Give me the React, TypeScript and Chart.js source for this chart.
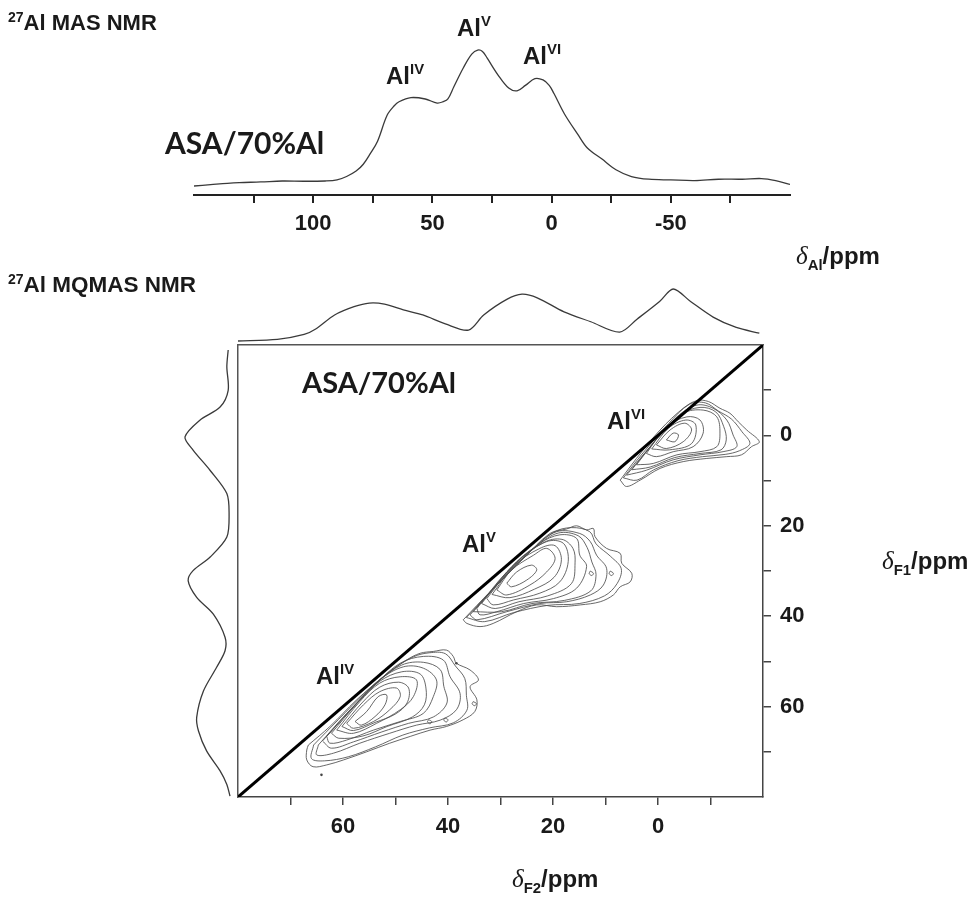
import React, { useEffect, useRef } from "react";
import { Chart, registerables } from "chart.js";
Chart.register(...registerables);

// ---------- 27Al MAS NMR (1D) ----------
const masShift = [150, 143, 136, 131, 122, 113, 104, 95, 90, 86, 82, 79, 76, 73, 69, 66, 64, 59, 53, 48, 45.5, 43.5, 41, 37, 33.5, 31, 29, 27, 22.6, 18, 14.5, 11, 7, 3.6, 1, -1, -5.4, -11, -15, -21, -27, -33.5, -40.8, -50, -60, -70, -80, -88, -94, -100];
const masIntensity = [0.0, 0.01, 0.02, 0.025, 0.03, 0.037, 0.035, 0.037, 0.045, 0.07, 0.11, 0.16, 0.24, 0.33, 0.52, 0.59, 0.62, 0.65, 0.64, 0.61, 0.62, 0.64, 0.73, 0.87, 0.97, 1.0, 0.99, 0.94, 0.82, 0.72, 0.7, 0.74, 0.79, 0.78, 0.74, 0.68, 0.53, 0.38, 0.28, 0.2, 0.12, 0.07, 0.05, 0.045, 0.04, 0.05, 0.05, 0.055, 0.04, 0.012];
const masTicks = [125, 100, 75, 50, 25, 0, -25, -50, -75];
const masTickLabels = [100, 50, 0, -50];

// ---------- MQMAS F2 projection (top) ----------
const f2ProjShift = [80, 72.5, 67.4, 65.2, 61.6, 57.9, 55, 52.1, 48.5, 44.8, 40.5, 36.1, 33.2, 28.8, 25.9, 23, 17.9, 12.8, 7.3, 4, -0.3, -2.9, -6.2, -10.5, -14.9, -19.3];
const f2ProjIntensity = [0.0, 0.03, 0.125, 0.23, 0.5, 0.66, 0.73, 0.71, 0.6, 0.5, 0.33, 0.21, 0.5, 0.8, 0.9, 0.83, 0.56, 0.37, 0.17, 0.42, 0.76, 1.0, 0.76, 0.46, 0.26, 0.15];

// ---------- MQMAS F1 projection (left) ----------
const f1ProjShift = [-18.9, -15.2, -10.0, -6.3, -3.4, 0.3, 3.2, 7.7, 12.8, 17.2, 22.4, 26.8, 29.8, 32.0, 35.7, 39.4, 44.5, 47.5, 51.2, 56.4, 62.2, 65.2, 69.6, 74.0, 77.0, 79.6];
const f1ProjIntensity = [0.04, 0.07, 0.04, 0.22, 0.67, 1.0, 0.82, 0.44, 0.07, 0.02, 0.07, 0.44, 0.82, 0.93, 0.74, 0.37, 0.11, 0.11, 0.3, 0.59, 0.74, 0.7, 0.52, 0.22, 0.07, 0.0];

// ---------- 2D axes ----------
const f2Ticks = [70, 60, 50, 40, 30, 20, 10, 0, -10];
const f2TickLabels = [60, 40, 20, 0];
const f1Ticks = [-10, 0, 10, 20, 30, 40, 50, 60, 70];
const f1TickLabels = [0, 20, 40, 60];
const diagonal = [[80, 80], [-20, -20]];

// ---------- contours: [δF2, δF1] ----------
const alVIContours = [
  [[-1.6, 1.0], [-2.9, -0.5], [-3.9, -0.1], [-3.2, 1.4]],
  [[0.3, 2.1], [-2.3, -1.2], [-5.1, -2.7], [-6.4, -1.2], [-4.8, 1.4], [-1.6, 2.9]],
  [[1.2, 3.0], [-2.0, -1.6], [-5.3, -3.4], [-7.2, -2.3], [-6.4, 1.8], [-2.2, 3.2]],
  [[2.2, 4.0], [-1.6, -1.9], [-5.5, -4.1], [-8.0, -3.4], [-8.6, -0.5], [-6.7, 2.5], [-2.9, 3.6], [0.3, 4.7]],
  [[4.1, 6.5], [-0.4, -0.1], [-4.8, -4.9], [-8.6, -5.6], [-11.2, -4.1], [-11.8, -0.5], [-11.2, 2.5], [-8.0, 3.6], [-3.6, 4.3], [0.9, 6.2]],
  [[5.0, 7.6], [0.5, 1.2], [-4.2, -4.5], [-8.0, -6.2], [-11.0, -5.2], [-12.5, -2.0], [-13.0, 1.0], [-12.0, 3.2], [-8.0, 4.0], [-3.2, 4.9], [1.5, 7.0]],
  [[6.0, 8.8], [1.5, 2.5], [-3.6, -4.1], [-7.4, -6.7], [-10.5, -6.0], [-13.1, -3.4], [-14.3, -0.1], [-15.0, 2.5], [-12.4, 3.6], [-8.0, 4.3], [-2.9, 5.4], [2.2, 7.7]],
  [[6.6, 9.4], [2.8, 3.8], [-2.0, -2.6], [-6.0, -6.9], [-9.0, -7.2], [-11.5, -5.4], [-14.0, -3.6], [-16.0, -0.8], [-17.5, 1.8], [-15.5, 3.4], [-12.8, 4.2], [-8.5, 4.7], [-3.8, 5.6], [0.8, 7.6], [4.0, 9.9]],
  [[7.2, 9.9], [4.1, 5.1], [-0.4, -1.2], [-4.8, -6.0], [-7.4, -7.7], [-9.6, -7.5], [-11.8, -6.0], [-13.7, -4.9], [-15.3, -3.0], [-16.9, -1.2], [-19.3, 1.4], [-17.8, 2.5], [-15.9, 4.3], [-13.1, 4.7], [-9.3, 5.1], [-4.8, 5.8], [-0.4, 7.3], [3.4, 9.9], [6.0, 11.3]],
];
const alVContours = [
  [[28.8, 32.7], [26.9, 30.2], [24.1, 28.7], [23.1, 29.8], [25.0, 32.0], [27.9, 33.5]],
  [[30.7, 34.2], [27.9, 29.8], [23.7, 26.5], [21.2, 25.0], [19.6, 27.2], [21.2, 30.2], [24.4, 33.1], [28.8, 35.3]],
  [[31.6, 35.2], [27.4, 28.8], [22.5, 25.0], [19.6, 24.4], [18.4, 27.5], [19.8, 31.4], [23.5, 34.0], [28.2, 35.9]],
  [[32.6, 36.1], [26.9, 27.9], [21.2, 23.5], [18.0, 23.9], [17.1, 27.9], [18.7, 32.4], [22.5, 34.9], [27.5, 36.4], [31.4, 37.5]],
  [[33.6, 37.2], [27.8, 29.0], [21.8, 23.7], [18.3, 23.0], [16.2, 25.0], [15.8, 28.2], [16.5, 32.8], [21.0, 35.5], [26.5, 36.8], [31.0, 38.3]],
  [[34.5, 38.3], [28.8, 30.2], [22.5, 23.9], [18.7, 22.0], [15.5, 22.8], [14.9, 26.5], [13.6, 29.0], [15.5, 33.8], [19.9, 36.1], [25.6, 37.2], [30.7, 39.0], [33.9, 39.7]],
  [[35.2, 39.0], [29.5, 31.4], [23.1, 24.5], [19.0, 21.6], [15.2, 22.2], [13.5, 24.8], [12.6, 28.0], [11.8, 30.8], [12.8, 34.4], [17.8, 36.5], [24.0, 37.2], [29.8, 39.0]],
  [[35.8, 39.7], [30.1, 32.4], [23.7, 25.0], [19.3, 21.3], [14.9, 21.7], [12.9, 23.5], [11.7, 26.5], [9.8, 29.4], [10.4, 33.1], [12.9, 35.3], [17.4, 36.8], [22.5, 37.2], [28.8, 39.0], [34.5, 40.8]],
  [[36.5, 40.3], [31.0, 33.5], [24.6, 26.0], [20.0, 21.5], [16.5, 20.4], [13.0, 21.3], [11.8, 24.0], [9.0, 26.8], [7.0, 29.5], [7.8, 32.8], [10.2, 35.5], [15.0, 37.2], [21.0, 37.6], [27.5, 39.2], [33.0, 41.2]],
  [[37.1, 40.8], [32.0, 34.6], [25.6, 27.2], [20.6, 21.7], [17.4, 20.7], [15.5, 20.0], [13.6, 20.9], [12.3, 20.6], [12.0, 22.4], [9.8, 25.0], [7.2, 26.1], [6.9, 28.3], [5.0, 30.5], [5.3, 32.4], [7.2, 33.5], [8.5, 35.3], [11.0, 36.8], [14.8, 37.5], [19.3, 37.9], [23.1, 37.5], [26.9, 39.0], [31.4, 41.6], [33.9, 42.3], [36.4, 41.6]],
  [[12.9, 30.0], [12.3, 30.5], [12.6, 31.0], [13.1, 30.6]],
  [[9.1, 30.0], [8.5, 30.5], [8.8, 31.0], [9.3, 30.6]],
];
const alIVContours = [
  [[57.7, 63.3], [55.5, 61.1], [53.3, 57.8], [51.7, 57.4], [52.0, 59.6], [53.9, 62.2], [56.5, 64.1]],
  [[59.3, 63.7], [56.1, 59.6], [53.0, 56.7], [49.8, 55.9], [49.1, 57.8], [51.1, 60.7], [54.2, 63.3], [58.0, 64.8]],
  [[60.2, 64.4], [56.4, 59.2], [53.0, 55.7], [49.4, 54.6], [47.5, 55.9], [47.8, 59.2], [50.1, 61.7], [53.9, 63.5], [58.0, 65.3]],
  [[61.2, 65.2], [56.8, 58.9], [53.0, 54.8], [49.1, 53.4], [46.0, 54.1], [46.6, 57.8], [49.1, 60.7], [53.6, 63.7], [58.0, 65.9]],
  [[62.2, 65.9], [57.4, 59.4], [53.0, 54.4], [48.8, 52.3], [45.3, 52.8], [44.2, 55.9], [44.5, 59.6], [46.8, 62.3], [51.6, 64.4], [56.2, 66.5], [60.8, 67.0]],
  [[63.1, 66.6], [58.0, 60.0], [53.0, 54.1], [48.5, 51.2], [44.7, 51.5], [42.2, 54.1], [42.8, 57.8], [44.7, 61.5], [49.1, 63.3], [54.2, 65.2], [59.3, 67.4], [62.5, 68.1]],
  [[63.9, 67.6], [58.6, 60.8], [53.3, 54.5], [48.8, 50.8], [44.7, 50.2], [41.5, 51.8], [40.8, 55.5], [40.2, 59.2], [42.8, 62.3], [47.5, 63.7], [52.6, 65.6], [58.0, 67.8], [62.2, 69.2]],
  [[64.7, 68.5], [59.3, 61.5], [53.6, 54.8], [49.1, 50.4], [44.7, 48.9], [40.9, 49.7], [39.6, 53.4], [37.7, 57.1], [38.4, 60.7], [41.5, 63.0], [46.0, 64.1], [51.1, 65.9], [56.8, 68.1], [61.8, 70.3], [65.0, 70.7]],
  [[65.6, 68.5], [60.9, 62.9], [55.5, 56.6], [50.7, 51.9], [46.6, 49.0], [43.6, 48.1], [40.5, 48.3], [38.6, 51.0], [36.8, 53.8], [36.5, 57.5], [36.4, 60.8], [39.0, 63.6], [43.5, 64.7], [48.6, 66.3], [53.8, 68.9], [59.0, 71.1], [63.5, 72.0], [66.0, 71.5]],
  [[66.6, 68.5], [62.5, 64.4], [57.4, 58.5], [52.3, 53.4], [47.9, 49.7], [45.3, 48.2], [42.8, 47.8], [40.3, 47.5], [39.0, 48.9], [38.4, 50.4], [35.8, 51.9], [34.2, 54.1], [35.8, 55.6], [34.5, 58.5], [34.9, 61.1], [37.1, 62.9], [40.3, 64.4], [43.4, 65.2], [47.2, 66.6], [51.1, 68.1], [55.5, 70.0], [59.9, 71.8], [63.1, 72.9], [65.7, 73.3], [66.9, 71.8], [66.9, 69.6]],
  [[43.7, 62.9], [43.1, 63.3], [43.4, 63.8], [43.9, 63.4]],
  [[40.6, 62.5], [40.0, 62.9], [40.3, 63.4], [40.8, 63.0]],
  [[35.2, 58.9], [34.6, 59.3], [34.9, 59.8], [35.4, 59.4]],
];
const noiseDots = [[38.4, 50.4], [64.1, 75.1]];

const TICK_FONT = { family: '"Liberation Sans", Arial, sans-serif', size: 22, weight: "bold" as const };
const INK = "#1a1a1a";

function toPts(a: number[], b: number[]) {
  return a.map((v, i) => ({ x: v, y: b[i] }));
}
function poly(p: number[][]) {
  const pts = p.map(([x, y]) => ({ x, y }));
  pts.push({ ...pts[0] });
  return pts;
}

const base: any = {
  responsive: false,
  maintainAspectRatio: false,
  animation: false,
  events: [],
  devicePixelRatio: 1,
  plugins: { legend: { display: false }, tooltip: { enabled: false }, title: { display: false } },
};

function useChart(ref: React.RefObject<HTMLCanvasElement>, make: () => any) {
  useEffect(() => {
    if (!ref.current) return;
    const c = new Chart(ref.current, make());
    return () => c.destroy();
  }, []);
}

function setTicks(list: number[]) {
  return (s: any) => {
    s.ticks = list.map((v) => ({ value: v }));
  };
}

const S: React.CSSProperties = {
  position: "absolute",
  fontFamily: '"Liberation Sans", Arial, sans-serif',
  fontWeight: 700,
  lineHeight: 1,
  whiteSpace: "nowrap",
  color: INK,
};

function Al({ x, y, sup, size = 24 }: { x: number; y: number; sup: string; size?: number }) {
  return (
    <div style={{ ...S, left: x, top: y, fontSize: size }}>
      Al<span style={{ fontSize: size * 0.62, position: "relative", top: -size * 0.42 }}>{sup}</span>
    </div>
  );
}

function Delta({ x, y, sub, size = 24 }: { x: number; y: number; sub: string; size?: number }) {
  return (
    <div style={{ ...S, left: x, top: y, fontSize: size }}>
      <span style={{ fontFamily: '"Liberation Serif", "DejaVu Serif", serif', fontStyle: "italic", fontWeight: 400, fontSize: size * 1.05 }}>δ</span>
      <span style={{ fontSize: size * 0.62, position: "relative", top: size * 0.25 }}>{sub}</span>
      /ppm
    </div>
  );
}

export default function App() {
  const masRef = useRef<HTMLCanvasElement>(null);
  const topRef = useRef<HTMLCanvasElement>(null);
  const leftRef = useRef<HTMLCanvasElement>(null);
  const mainRef = useRef<HTMLCanvasElement>(null);

  useChart(masRef, () => ({
    type: "scatter",
    data: {
      datasets: [
        { data: toPts(masShift, masIntensity), showLine: true, pointRadius: 0, borderColor: "#3a3a3a", borderWidth: 1.3, tension: 0.35 },
      ],
    },
    options: {
      ...base,
      layout: { padding: { left: 194, right: 187, top: 0, bottom: 0 } },
      scales: {
        x: {
          type: "linear", min: -100, max: 150, reverse: true, position: "bottom",
          afterFit: (s: any) => { s.height = 65; },
          afterBuildTicks: setTicks(masTicks),
          ticks: { autoSkip: false, maxRotation: 0, padding: 8, color: INK, font: TICK_FONT, callback: (v: number) => (masTickLabels.includes(v) ? String(v) : "") },
          grid: { drawOnChartArea: false, drawTicks: true, tickLength: 8, color: "#222", lineWidth: 2 },
          border: { display: true, color: "#222", width: 2 },
        },
        y: { display: false, min: -0.066, max: 1.368 },
      },
    },
  }));

  useChart(topRef, () => ({
    type: "scatter",
    data: {
      datasets: [
        { data: toPts(f2ProjShift, f2ProjIntensity), showLine: true, pointRadius: 0, borderColor: "#3a3a3a", borderWidth: 1.3, tension: 0.3 },
      ],
    },
    options: {
      ...base,
      layout: { padding: { left: 238, right: 214, top: 0, bottom: 0 } },
      scales: {
        x: { display: false, min: -20, max: 80, reverse: true },
        y: { display: false, min: -0.0962, max: 1.365 },
      },
    },
  }));

  useChart(leftRef, () => ({
    type: "scatter",
    data: {
      datasets: [
        { data: toPts(f1ProjIntensity, f1ProjShift), showLine: true, pointRadius: 0, borderColor: "#3a3a3a", borderWidth: 1.3, tension: 0.3 },
      ],
    },
    options: {
      ...base,
      layout: { padding: 0 },
      scales: {
        x: { display: false, min: -0.178, max: 1.333, reverse: true },
        y: { display: false, min: -20, max: 80, reverse: true },
      },
    },
  }));

  useChart(mainRef, () => {
    const contourSets: any[] = [];
    [alVIContours, alVContours, alIVContours].forEach((site) =>
      site.forEach((c) =>
        contourSets.push({ data: poly(c), showLine: true, pointRadius: 0, borderColor: "#4d4d4d", borderWidth: 0.85, tension: 0.35 })
      )
    );
    return {
      type: "scatter",
      data: {
        datasets: [
          { data: diagonal.map(([x, y]) => ({ x, y })), showLine: true, pointRadius: 0, borderColor: "#000", borderWidth: 3 },
          ...contourSets,
          { data: noiseDots.map(([x, y]) => ({ x, y })), showLine: false, pointRadius: 1.3, backgroundColor: "#444", borderWidth: 0 },
        ],
      },
      options: {
        ...base,
        layout: { padding: { left: 238, right: 0, top: 345, bottom: 0 } },
        scales: {
          x: {
            type: "linear", min: -20, max: 80, reverse: true, position: "bottom",
            afterFit: (s: any) => { s.height = 102; },
            afterBuildTicks: setTicks(f2Ticks),
            ticks: { autoSkip: false, maxRotation: 0, padding: 9, color: INK, font: TICK_FONT, callback: (v: number) => (f2TickLabels.includes(v) ? String(v) : "") },
            grid: { drawOnChartArea: false, drawTicks: true, tickLength: 8, color: "#444", lineWidth: 1.5 },
            border: { display: true, color: "#444", width: 1.5 },
          },
          y: {
            type: "linear", min: -20, max: 80, reverse: true, position: "right",
            afterFit: (s: any) => { s.width = 214; },
            afterBuildTicks: setTicks(f1Ticks),
            ticks: { autoSkip: false, padding: 9, color: INK, font: TICK_FONT, callback: (v: number) => (f1TickLabels.includes(v) ? String(v) : "") },
            grid: { drawOnChartArea: false, drawTicks: true, tickLength: 8, color: "#444", lineWidth: 1.5 },
            border: { display: true, color: "#444", width: 1.5 },
          },
          xTop: {
            type: "linear", axis: "x", position: "top", min: -20, max: 80, reverse: true,
            afterFit: (s: any) => { s.height = 0; },
            ticks: { display: false }, grid: { drawOnChartArea: false, drawTicks: false },
            border: { display: true, color: "#555", width: 1.5 },
          },
          yLeft: {
            type: "linear", axis: "y", position: "left", min: -20, max: 80, reverse: true,
            afterFit: (s: any) => { s.width = 0; },
            ticks: { display: false }, grid: { drawOnChartArea: false, drawTicks: false },
            border: { display: true, color: "#555", width: 1.5 },
          },
        },
      },
    };
  });

  const cv = (l: number, t: number, w: number, h: number): React.CSSProperties => ({ position: "absolute", left: l, top: t, width: w, height: h });

  return (
    <div style={{ position: "absolute", left: 0, top: 0, width: 977, height: 899, background: "#fff", overflow: "hidden" }}>
      <canvas ref={masRef} width={977} height={260} style={cv(0, 0, 977, 260)} />
      <canvas ref={topRef} width={977} height={76} style={cv(0, 270, 977, 76)} />
      <canvas ref={leftRef} width={68} height={453} style={cv(170, 345, 68, 453)} />
      <canvas ref={mainRef} width={977} height={899} style={cv(0, 0, 977, 899)} />

      <div style={{ ...S, left: 8, top: 12, fontSize: 22 }}>
        <span style={{ fontSize: 14, position: "relative", top: -8 }}>27</span>Al MAS NMR
      </div>
      <div style={{ ...S, left: 8, top: 274, fontSize: 22.5 }}>
        <span style={{ fontSize: 14, position: "relative", top: -8 }}>27</span>Al MQMAS NMR
      </div>
      <div style={{ ...S, fontFamily: 'Lato, "Open Sans", sans-serif', left: 165, top: 127, fontSize: 30 }}>ASA/70%Al</div>
      <div style={{ ...S, fontFamily: 'Lato, "Open Sans", sans-serif', left: 302, top: 367, fontSize: 29 }}>ASA/70%Al</div>

      <Al x={386} y={64} sup="IV" />
      <Al x={457} y={16} sup="V" />
      <Al x={523} y={44} sup="VI" />

      <Al x={607} y={409} sup="VI" />
      <Al x={462} y={532} sup="V" />
      <Al x={316} y={664} sup="IV" />

      <Delta x={796} y={243} sub="Al" />
      <Delta x={882} y={548} sub="F1" />
      <Delta x={512} y={866} sub="F2" />
    </div>
  );
}
